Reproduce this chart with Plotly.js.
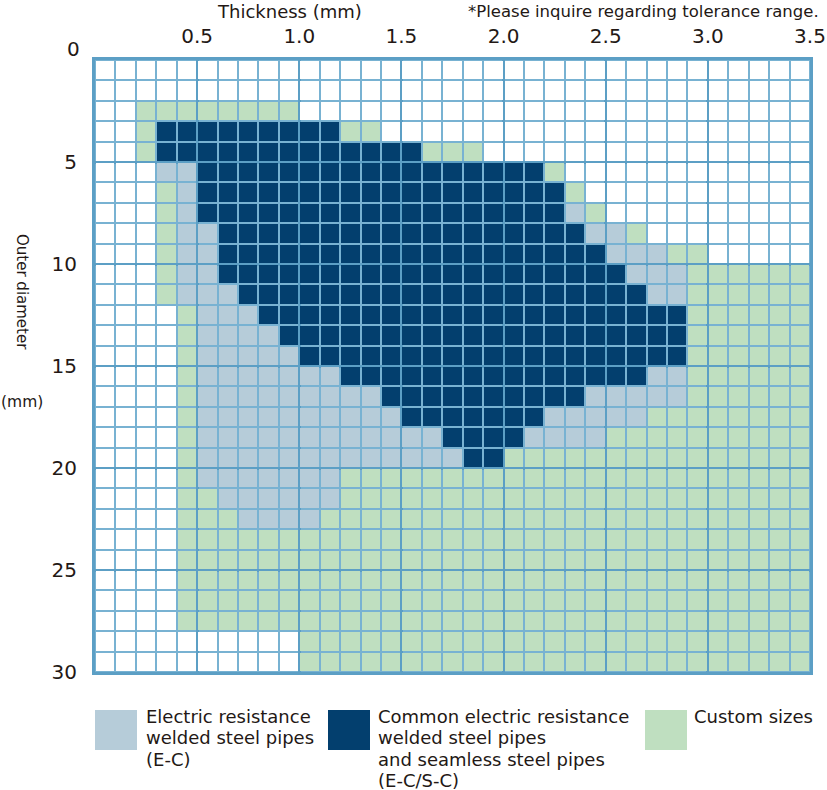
<!DOCTYPE html>
<html>
<head>
<meta charset="utf-8">
<script src="https://cdn.plot.ly/plotly-3.0.1.min.js"></script>
<style>html,body{margin:0;padding:0;background:#fff}#chart{width:827px;height:790px}</style>
</head>
<body>
<div id="chart"></div>
<script>
// Thickness tick labels (mm) and outer diameter tick labels (mm)
const thicknessTicks = [0.5, 1.0, 1.5, 2.0, 2.5, 3.0, 3.5];
const thicknessTickText = ["0.5", "1.0", "1.5", "2.0", "2.5", "3.0", "3.5"];
const diameterTicks = [5, 10, 15, 20, 25, 30];
const categories = [
  ["Electric resistance", "welded steel pipes", "(E-C)"],
  ["Common electric resistance", "welded steel pipes", "and seamless steel pipes", "(E-C/S-C)"],
  ["Custom sizes"]
];

// For each outer-diameter row (0-1 mm, 1-2 mm, ... 29-30 mm): thickness ranges [from, to] in mm
const ecRanges = [
  [], [], [], [], [],
  [[0.3,0.5]],
  [[0.4,0.5]],
  [[0.4,0.5],[2.3,2.4]],
  [[0.4,0.6],[2.4,2.6]],
  [[0.4,0.6],[2.5,2.8]],
  [[0.4,0.6],[2.6,2.9]],
  [[0.4,0.7],[2.7,2.9]],
  [[0.5,0.8]],
  [[0.5,0.9]],
  [[0.5,1.0]],
  [[0.5,1.2],[2.7,2.9]],
  [[0.5,1.4],[2.4,2.9]],
  [[0.5,1.5],[2.2,2.7]],
  [[0.5,1.7],[2.1,2.5]],
  [[0.5,1.8]],
  [[0.5,1.2]],
  [[0.6,1.2]],
  [[0.7,1.1]],
  [], [], [], [], [], [], []
];
const commonRanges = [
  [], [], [],
  [[0.3,1.2]],
  [[0.3,1.6]],
  [[0.5,2.2]],
  [[0.5,2.3]],
  [[0.5,2.3]],
  [[0.6,2.4]],
  [[0.6,2.5]],
  [[0.6,2.6]],
  [[0.7,2.7]],
  [[0.8,2.9]],
  [[0.9,2.9]],
  [[1.0,2.9]],
  [[1.2,2.7]],
  [[1.4,2.4]],
  [[1.5,2.2]],
  [[1.7,2.1]],
  [[1.8,2.0]],
  [], [], [], [], [], [], [], [], [], []
];
const customRanges = [
  [], [],
  [[0.2,1.0]],
  [[0.2,0.3],[1.2,1.4]],
  [[0.2,0.3],[1.6,1.9]],
  [[2.2,2.3]],
  [[0.3,0.4],[2.3,2.4]],
  [[0.3,0.4],[2.4,2.5]],
  [[0.3,0.4],[2.6,2.7]],
  [[0.3,0.4],[2.8,3.0]],
  [[0.3,0.4],[2.9,3.5]],
  [[0.3,0.4],[2.9,3.5]],
  [[0.4,0.5],[2.9,3.5]],
  [[0.4,0.5],[2.9,3.5]],
  [[0.4,0.5],[2.9,3.5]],
  [[0.4,0.5],[2.9,3.5]],
  [[0.4,0.5],[2.9,3.5]],
  [[0.4,0.5],[2.7,3.5]],
  [[0.4,0.5],[2.5,3.5]],
  [[0.4,0.5],[2.0,3.5]],
  [[0.4,0.5],[1.2,3.5]],
  [[0.4,0.6],[1.2,3.5]],
  [[0.4,0.7],[1.1,3.5]],
  [[0.4,3.5]],
  [[0.4,3.5]],
  [[0.4,3.5]],
  [[0.4,3.5]],
  [[0.4,3.5]],
  [[1.0,3.5]],
  [[1.0,3.5]]
];

const nRows = 30, nCols = 35;
const z = [];
for (let r = 0; r < nRows; r++) z.push(new Array(nCols).fill(0));
function fill(ranges, code) {
  ranges.forEach((list, r) => list.forEach(([a, b]) => {
    const c0 = Math.round(a * 10), c1 = Math.round(b * 10);
    for (let c = c0; c < c1; c++) z[r][c] = code;
  }));
}
fill(customRanges, 3);
fill(ecRanges, 1);
fill(commonRanges, 2);

const WHITE = "#ffffff", LB = "#b6ccd9", DK = "#033f6e", GR = "#bfdfc0";
const MINOR = "#78b2d2", MAJOR = "#5c9fc5";

const trace = {
  type: "heatmap",
  z: z,
  x0: 0.05, dx: 0.1,
  y0: 0.5, dy: 1,
  zmin: 0, zmax: 3,
  colorscale: [[0, WHITE], [1/6, WHITE], [1/6, LB], [0.5, LB], [0.5, DK], [5/6, DK], [5/6, GR], [1, GR]],
  showscale: false,
  xgap: 2, ygap: 2,
  hoverinfo: "skip"
};

const font = "'DejaVu Sans', sans-serif";
const txt = "#231815";

function px2x(p) { return (p - 95) / 715; }
function py2y(p) { return (672 - p) / 612; }

const swatches = [
  {x0: 95, x1: 137, color: LB},
  {x0: 328, x1: 370, color: DK},
  {x0: 645, x1: 687, color: GR}
];
const textX = [145, 377, 693];

const shapes = swatches.map(s => ({
  type: "rect", xref: "paper", yref: "paper",
  x0: px2x(s.x0), x1: px2x(s.x1), y0: py2y(750), y1: py2y(710),
  fillcolor: s.color, line: {width: 0}
}));

const annotations = [
  {text: "Thickness (mm)", xref: "paper", yref: "paper", x: px2x(289), y: py2y(11),
   xanchor: "center", yanchor: "middle", showarrow: false, font: {family: font, size: 18, color: txt}},
  {text: "*Please inquire regarding tolerance range.", xref: "paper", yref: "paper", x: px2x(821), y: py2y(11),
   xanchor: "right", yanchor: "middle", showarrow: false, font: {family: font, size: 16.5, color: txt}},
  {text: "Outer diameter", xref: "paper", yref: "paper", x: px2x(22), y: py2y(292),
   xanchor: "center", yanchor: "middle", textangle: 90, showarrow: false, font: {family: font, size: 15, color: txt}},
  {text: "(mm)", xref: "paper", yref: "paper", x: px2x(22), y: py2y(402),
   xanchor: "center", yanchor: "middle", showarrow: false, font: {family: font, size: 15.5, color: txt}},
  {text: "0", xref: "paper", yref: "paper", x: px2x(82), y: py2y(49),
   xanchor: "right", yanchor: "middle", showarrow: false, font: {family: font, size: 20, color: txt}}
];
categories.forEach((lines, i) => lines.forEach((line, k) => {
  annotations.push({
    text: line, xref: "paper", yref: "paper", x: px2x(textX[i]), y: py2y(716 + 21.5 * k),
    xanchor: "left", yanchor: "middle", align: "left", showarrow: false, borderpad: 0,
    font: {family: font, size: 18, color: txt}
  });
}));

const layout = {
  width: 827, height: 790,
  margin: {l: 95, r: 17, t: 60, b: 118},
  paper_bgcolor: "#ffffff",
  plot_bgcolor: MINOR,
  showlegend: false,
  xaxis: {
    side: "top", range: [0, 3.5], tickvals: thicknessTicks, ticktext: thicknessTickText,
    showgrid: true, gridcolor: MAJOR, gridwidth: 3, zeroline: false,
    showline: true, mirror: true, linecolor: MAJOR, linewidth: 3,
    ticks: "", ticklabelstandoff: 6,
    tickfont: {family: font, size: 20, color: txt}, fixedrange: true
  },
  yaxis: {
    range: [30, 0], tickvals: diameterTicks,
    showgrid: true, gridcolor: MAJOR, gridwidth: 3, zeroline: false,
    showline: true, mirror: true, linecolor: MAJOR, linewidth: 3,
    ticks: "", ticklabelstandoff: 11,
    tickfont: {family: font, size: 20, color: txt}, fixedrange: true
  },
  shapes: shapes,
  annotations: annotations
};

Plotly.newPlot("chart", [trace], layout, {displayModeBar: false, staticPlot: true});
</script>
</body>
</html>
